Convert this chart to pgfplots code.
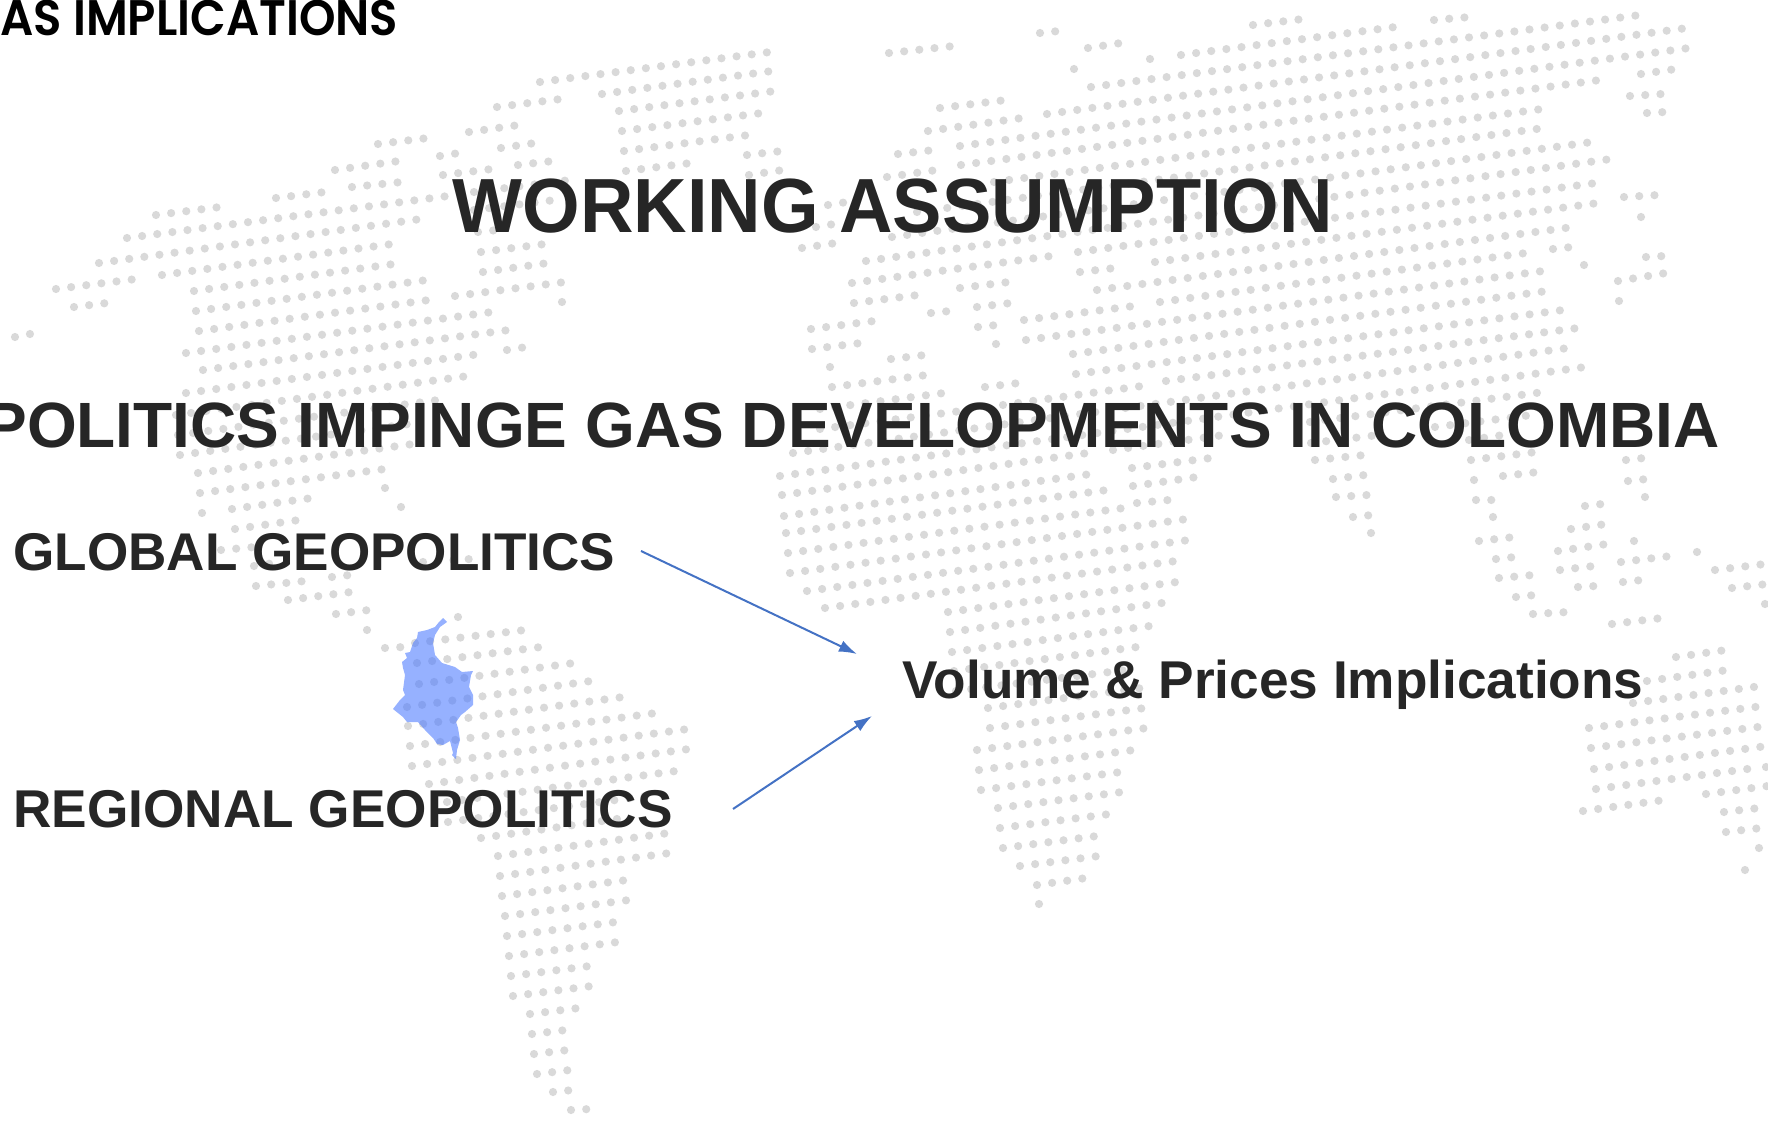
\documentclass[border=0pt]{standalone}
\usepackage{fontspec}
\setmainfont{Liberation Sans}
\newfontfamily\gothic{Poppins SemiBold}
\usepackage{pgfplots}
\usetikzlibrary{arrows.meta}
\pgfplotsset{compat=1.18}
\definecolor{dot}{HTML}{D9D9D9}
\definecolor{ink}{HTML}{262626}
\definecolor{arr}{HTML}{4472C4}
\definecolor{col}{RGB}{80,125,255}
\newcommand{\lbl}[1]{\fontsize{#1}{#1}\selectfont\bfseries}
\begin{document}
\begin{tikzpicture}
\useasboundingbox (0,0) rectangle (884pt,561.5pt);
\clip (0,0) rectangle (884pt,561.5pt);
\begin{axis}[at={(0,0)},anchor=south west,scale only axis,width=884pt,height=561.5pt,
  xmin=0,xmax=1768,ymin=0,ymax=1123,y dir=reverse,hide axis,clip=false]
\addplot[dot,line width=4.1pt,line cap=round,dash pattern=on 0pt off 7.625pt,unbounded coords=jump,no markers] coordinates {
(540,82)(770,52)(nan,nan)
(497,107)(561,99)(nan,nan)
(602,94)(772,71)(nan,nan)
(469,132)(519,125)(nan,nan)
(378,144)(428,138)(nan,nan)
(619,111)(775,91)(nan,nan)
(622,131)(762,113)(nan,nan)
(335,170)(399,161)(nan,nan)
(440,156)(459,153)(nan,nan)
(501,148)(535,143)(nan,nan)
(624,151)(749,135)(nan,nan)
(626,171)(691,163)(nan,nan)
(747,155)(782,151)(nan,nan)
(749,175)(783,170)(nan,nan)
(156,215)(220,207)(nan,nan)
(276,198)(325,192)(nan,nan)
(352,187)(402,182)(nan,nan)
(443,175)(492,169)(nan,nan)
(518,165)(553,161)(nan,nan)
(127,238)(448,196)(nan,nan)
(474,192)(570,180)(nan,nan)
(99,263)(421,219)(nan,nan)
(474,210)(555,200)(nan,nan)
(56,289)(136,279)(nan,nan)
(162,275)(392,244)(nan,nan)
(478,232)(498,230)(nan,nan)
(74,307)(107,303)(nan,nan)
(194,291)(394,264)(nan,nan)
(481,252)(545,244)(nan,nan)
(15,337)(35,333)(nan,nan)
(196,311)(427,280)(nan,nan)
(483,272)(548,263)(nan,nan)
(199,331)(429,300)(nan,nan)
(455,296)(565,282)(nan,nan)
(186,353)(492,312)(nan,nan)
(562,302)(563,302)(nan,nan)
(203,370)(509,330)(nan,nan)
(186,393)(480,354)(nan,nan)
(507,350)(526,347)(nan,nan)
(176,415)(468,376)(nan,nan)
(178,435)(438,400)(nan,nan)
(180,455)(409,424)(nan,nan)
(198,473)(413,444)(nan,nan)
(200,493)(385,469)(nan,nan)
(202,513)(203,513)(nan,nan)
(232,509)(312,498)(nan,nan)
(235,529)(299,520)(nan,nan)
(385,488)(386,488)(nan,nan)
(401,507)(402,507)(nan,nan)
(221,550)(255,547)(nan,nan)
(254,566)(274,563)(nan,nan)
(423,562)(471,559)(nan,nan)
(256,586)(305,581)(nan,nan)
(332,577)(350,575)(nan,nan)
(288,600)(351,592)(nan,nan)
(336,614)(369,610)(nan,nan)
(367,630)(368,630)(nan,nan)
(458,617)(459,617)(nan,nan)
(385,648)(404,647)(nan,nan)
(415,643)(525,630)(nan,nan)
(417,663)(541,647)(nan,nan)
(419,684)(574,663)(nan,nan)
(407,707)(591,681)(nan,nan)
(408,726)(623,697)(nan,nan)
(410,746)(656,713)(nan,nan)
(412,766)(688,729)(nan,nan)
(429,784)(689,749)(nan,nan)
(447,802)(676,771)(nan,nan)
(448,822)(654,795)(nan,nan)
(481,838)(624,818)(nan,nan)
(498,856)(669,833)(nan,nan)
(500,876)(670,853)(nan,nan)
(502,896)(627,880)(nan,nan)
(505,916)(629,900)(nan,nan)
(507,936)(616,922)(nan,nan)
(509,956)(618,942)(nan,nan)
(511,976)(590,966)(nan,nan)
(513,996)(592,986)(nan,nan)
(530,1014)(579,1008)(nan,nan)
(532,1034)(566,1030)(nan,nan)
(534,1054)(568,1050)(nan,nan)
(537,1074)(570,1070)(nan,nan)
(553,1092)(573,1090)(nan,nan)
(571,1110)(590,1109)(nan,nan)
(889,53)(954,46)(nan,nan)
(1040,33)(1059,31)(nan,nan)
(1088,48)(1121,43)(nan,nan)
(1074,69)(1075,69)(nan,nan)
(1150,59)(1151,59)(nan,nan)
(1253,25)(1303,19)(nan,nan)
(1434,20)(1470,17)(nan,nan)
(1181,55)(1395,27)(nan,nan)
(940,108)(1006,100)(nan,nan)
(1091,87)(1640,15)(nan,nan)
(928,131)(1022,118)(nan,nan)
(1047,114)(1687,28)(nan,nan)
(960,146)(1689,48)(nan,nan)
(898,154)(934,150)(nan,nan)
(887,177)(937,170)(nan,nan)
(961,165)(1600,80)(nan,nan)
(828,205)(847,202)(nan,nan)
(994,182)(1542,109)(nan,nan)
(816,227)(834,224)(nan,nan)
(917,212)(1544,128)(nan,nan)
(802,248)(836,243)(nan,nan)
(892,237)(1592,142)(nan,nan)
(866,261)(1611,159)(nan,nan)
(852,283)(1051,256)(nan,nan)
(1078,252)(1596,183)(nan,nan)
(854,303)(918,295)(nan,nan)
(960,288)(1009,282)(nan,nan)
(1080,272)(1115,268)(nan,nan)
(1155,262)(1598,203)(nan,nan)
(811,329)(874,321)(nan,nan)
(931,313)(950,311)(nan,nan)
(977,307)(1011,303)(nan,nan)
(1097,290)(1573,227)(nan,nan)
(812,349)(861,343)(nan,nan)
(978,327)(997,325)(nan,nan)
(1024,320)(1134,306)(nan,nan)
(1160,302)(1526,253)(nan,nan)
(1553,249)(1572,247)(nan,nan)
(830,367)(831,367)(nan,nan)
(891,359)(925,355)(nan,nan)
(996,344)(997,344)(nan,nan)
(1026,340)(1543,271)(nan,nan)
(832,387)(927,375)(nan,nan)
(1073,354)(1547,291)(nan,nan)
(820,409)(944,393)(nan,nan)
(985,387)(1019,383)(nan,nan)
(1076,374)(1563,310)(nan,nan)
(820,429)(961,411)(nan,nan)
(1003,405)(1142,386)(nan,nan)
(1166,381)(1578,328)(nan,nan)
(793,453)(1568,348)(nan,nan)
(780,476)(1585,367)(nan,nan)
(782,495)(1088,453)(nan,nan)
(1113,450)(1224,435)(nan,nan)
(1310,422)(1544,392)(nan,nan)
(784,516)(1091,474)(nan,nan)
(1132,468)(1211,458)(nan,nan)
(1311,443)(1379,435)(nan,nan)
(1435,427)(1532,415)(nan,nan)
(786,533)(1107,490)(nan,nan)
(1133,486)(1197,477)(nan,nan)
(1315,460)(1365,455)(nan,nan)
(1469,440)(1517,433)(nan,nan)
(788,553)(1124,508)(nan,nan)
(1137,503)(1169,500)(nan,nan)
(1333,479)(1365,475)(nan,nan)
(1471,460)(1536,452)(nan,nan)
(790,573)(1187,519)(nan,nan)
(1336,497)(1368,495)(nan,nan)
(1474,480)(1475,480)(nan,nan)
(1503,476)(1538,472)(nan,nan)
(807,591)(1189,540)(nan,nan)
(1353,517)(1372,515)(nan,nan)
(1476,500)(1492,500)(nan,nan)
(825,608)(1176,561)(nan,nan)
(1371,533)(1386,533)(nan,nan)
(1493,517)(1494,517)(nan,nan)
(948,612)(1177,582)(nan,nan)
(950,632)(1162,603)(nan,nan)
(952,652)(1150,626)(nan,nan)
(954,671)(1137,647)(nan,nan)
(956,691)(1126,670)(nan,nan)
(988,708)(1142,688)(nan,nan)
(990,728)(1145,708)(nan,nan)
(977,750)(1147,728)(nan,nan)
(979,770)(1134,750)(nan,nan)
(981,790)(1121,772)(nan,nan)
(998,808)(1122,792)(nan,nan)
(1000,828)(1110,814)(nan,nan)
(1003,848)(1097,836)(nan,nan)
(1020,866)(1099,856)(nan,nan)
(1037,885)(1086,878)(nan,nan)
(1039,904)(1040,904)(nan,nan)
(1479,541)(1514,537)(nan,nan)
(1496,559)(1515,557)(nan,nan)
(1499,578)(1533,575)(nan,nan)
(1516,597)(1535,595)(nan,nan)
(1533,614)(1568,612)(nan,nan)
(1612,624)(1662,618)(nan,nan)
(1626,460)(1644,458)(nan,nan)
(1628,481)(1647,479)(nan,nan)
(1645,497)(1646,497)(nan,nan)
(1585,506)(1602,504)(nan,nan)
(1571,529)(1606,524)(nan,nan)
(1558,551)(1607,544)(nan,nan)
(1560,570)(1594,566)(nan,nan)
(1578,587)(1596,586)(nan,nan)
(1634,541)(1635,541)(nan,nan)
(1621,562)(1671,556)(nan,nan)
(1623,582)(1642,580)(nan,nan)
(1697,552)(1698,552)(nan,nan)
(1715,570)(1765,564)(nan,nan)
(1732,588)(1767,584)(nan,nan)
(1765,604)(1766,604)(nan,nan)
(1676,657)(1726,650)(nan,nan)
(1647,681)(1728,670)(nan,nan)
(1633,703)(1761,686)(nan,nan)
(1589,728)(1763,706)(nan,nan)
(1591,748)(1766,726)(nan,nan)
(1594,769)(1767,746)(nan,nan)
(1596,789)(1755,768)(nan,nan)
(1766,767)(1767,767)(nan,nan)
(1583,811)(1664,800)(nan,nan)
(1706,794)(1768,786)(nan,nan)
(1724,812)(1759,808)(nan,nan)
(1726,832)(1761,828)(nan,nan)
(1759,848)(1760,848)(nan,nan)
(1745,870)(1746,870)(nan,nan)
(1641,74)(1676,69)(nan,nan)
(1630,96)(1662,94)(nan,nan)
(1647,113)(1665,112)(nan,nan)
(1624,197)(1658,195)(nan,nan)
(1641,217)(1642,217)(nan,nan)
(1646,257)(1664,256)(nan,nan)
(1618,281)(1666,273)(nan,nan)
(1619,301)(1620,301)(nan,nan)
(1584,265)(1585,265)(nan,nan)
};
\addplot[draw=none,fill=col,fill opacity=0.6] coordinates {
(443,618)(439,622)(435,627)(427,630)(418,632)(417,638)(413,643)(410,652)(405,653)(407,658)(402,662)(403,668)(405,675)(403,690)(405,695)(400,700)(393,709)(403,717)(407,722)(418,722)(425,730)(433,738)(437,744)(443,745)(450,741)(453,753)(452,755)(456,759)(457,750)(460,740)(458,728)(456,722)(461,715)(465,712)(473,705)(473,695)(469,687)(471,675)(473,671)(462,672)(455,667)(442,663)(435,655)(433,643)(435,635)(440,627)(447,622)(443,618)
} -- cycle;
\addplot[arr,line width=1pt,-{Latex[length=9pt,width=6pt]}] coordinates {(641,551)(857,654)};
\addplot[arr,line width=1pt,-{Latex[length=9pt,width=6pt]}] coordinates {(733,809)(872,716)};
\node[anchor=base west,inner sep=0,text=black] at (axis cs:0,36) {\scalebox{0.93}[1]{\gothic\fontsize{25}{25}\selectfont AS IMPLICATIONS}};
\node[anchor=base,inner sep=0,text=ink] at (axis cs:893,233) {\scalebox{0.964}[1]{\lbl{38.4}WORKING ASSUMPTION}};
\node[anchor=base east,inner sep=0,text=ink] at (axis cs:1720,447) {\lbl{32}GEOPOLITICS IMPINGE GAS DEVELOPMENTS IN COLOMBIA};
\node[anchor=base west,inner sep=0,text=ink] at (axis cs:13,570) {\lbl{26.55}GLOBAL GEOPOLITICS};
\node[anchor=base west,inner sep=0,text=ink] at (axis cs:13,827) {\lbl{26.6}REGIONAL GEOPOLITICS};
\node[anchor=base west,inner sep=0,text=ink] at (axis cs:902,698) {\lbl{26.6}Volume \& Prices Implications};
\end{axis}
\end{tikzpicture}
\end{document}
